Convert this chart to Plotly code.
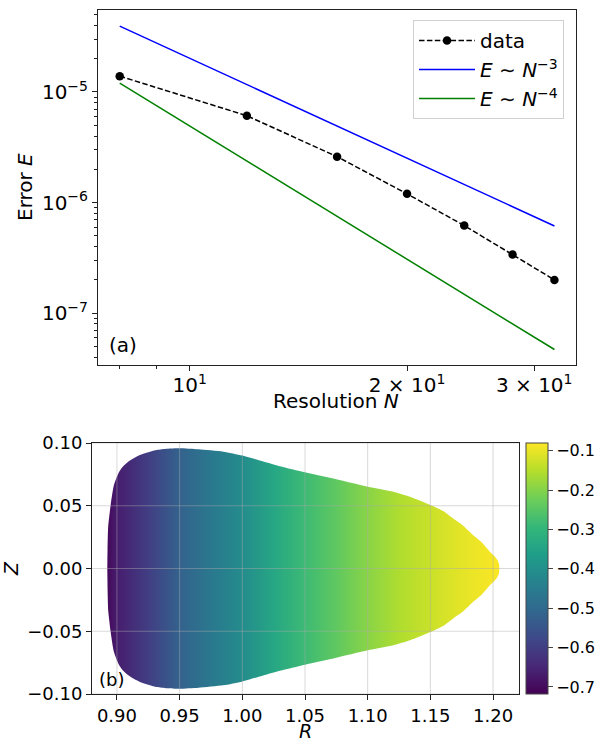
import plotly.graph_objects as go
from plotly.colors import sample_colorscale

# ---------------- data: panel (a) ----------------
N_data = [8, 12, 16, 20, 24, 28, 32]
E_data = [1.39e-5, 6.1e-6, 2.6e-6, 1.2e-6, 6.2e-7, 3.4e-7, 2.0e-7]
N_ref = [8, 32]
E_ref3 = [3.94e-5, 6.15e-7]
E_ref4 = [1.2e-5, 4.7e-8]

x_tickvals_a = [10, 20, 30]
x_ticktext_a = ["10<sup>1</sup>", "2 × 10<sup>1</sup>", "3 × 10<sup>1</sup>"]
y_tickvals_a = [1e-7, 1e-6, 1e-5]
y_ticktext_a = ["10<sup>−7</sup>", "10<sup>−6</sup>", "10<sup>−5</sup>"]

# ---------------- data: panel (b) ----------------
# upper half of the boundary (symmetric in Z)
R_bnd = [0.8923, 0.8925, 0.8930, 0.8950, 0.8976, 0.9018, 0.9050, 0.9090, 0.9183,
         0.9317, 0.9400, 0.9500, 0.9650, 0.9848, 1.0000, 1.0140, 1.0300, 1.0500,
         1.0750, 1.1000, 1.1206, 1.1337, 1.1500, 1.1602, 1.1680, 1.1762, 1.1840,
         1.1909, 1.1975, 1.2010, 1.2035, 1.2048, 1.2050]
Z_bnd = [0.0000, 0.0150, 0.0330, 0.0506, 0.0665, 0.0771, 0.0815, 0.0851, 0.0904,
         0.0944, 0.0954, 0.0958, 0.0950, 0.0931, 0.0900, 0.0860, 0.0815, 0.0766,
         0.0711, 0.0652, 0.0612, 0.0572, 0.0506, 0.0458, 0.0400, 0.0341, 0.0267,
         0.0209, 0.0134, 0.0100, 0.0068, 0.0035, 0.0000]
# field value along R (colour)
R_prof = [0.8923, 0.900, 0.925, 0.950, 0.975, 1.000, 1.025, 1.050, 1.075, 1.100,
          1.125, 1.150, 1.175, 1.2050]
V_prof = [-0.705, -0.667, -0.600, -0.520, -0.463, -0.410, -0.340, -0.283, -0.240,
          -0.195, -0.157, -0.131, -0.105, -0.082]
cmin, cmax = -0.718, -0.080
R_ticks = [0.90, 0.95, 1.00, 1.05, 1.10, 1.15, 1.20]
Z_ticks = [-0.10, -0.05, 0.00, 0.05, 0.10]
cb_ticks = [-0.7, -0.6, -0.5, -0.4, -0.3, -0.2, -0.1]

W, H = 603, 742
FONT = "DejaVu Sans"


def px(x):
    return x / W


def py(y):
    return 1 - y / H


fig = go.Figure()

# panel (a)
fig.add_trace(go.Scatter(x=N_data, y=E_data, mode="lines+markers", name="data",
                         line=dict(color="black", width=1.5, dash="5.5px,2.4px"),
                         marker=dict(color="black", size=8.5),
                         xaxis="x", yaxis="y"))
fig.add_trace(go.Scatter(x=N_ref, y=E_ref3, mode="lines",
                         name="<i>E</i> ∼ <i>N</i><sup>−3</sup>",
                         line=dict(color="#0000ff", width=1.5), xaxis="x", yaxis="y"))
fig.add_trace(go.Scatter(x=N_ref, y=E_ref4, mode="lines",
                         name="<i>E</i> ∼ <i>N</i><sup>−4</sup>",
                         line=dict(color="#008000", width=1.5), xaxis="x", yaxis="y"))

# panel (b): filled boundary with horizontal gradient (upper half, then mirrored lower half)
poly_R = R_bnd + R_bnd[-2:0:-1]
poly_Z = Z_bnd + [-z for z in Z_bnd[-2:0:-1]]
Rmin, Rmax = min(R_bnd), max(R_bnd)
stops = []
for r, v in zip(R_prof, V_prof):
    f = (r - Rmin) / (Rmax - Rmin)
    c = sample_colorscale("Viridis", [(v - cmin) / (cmax - cmin)])[0]
    stops.append([min(max(f, 0), 1), c])
fig.add_trace(go.Scatter(x=poly_R, y=poly_Z, mode="lines", fill="toself",
                         line=dict(width=0, shape="spline", smoothing=0.6),
                         fillgradient=dict(type="horizontal", colorscale=stops,
                                           start=Rmin, stop=Rmax),
                         showlegend=False, hoverinfo="skip",
                         xaxis="x2", yaxis="y2"))
# colourbar carrier
fig.add_trace(go.Scatter(x=[0.5, 0.5], y=[0, 0], mode="markers",
                         marker=dict(color=[cmin, cmax], colorscale="Viridis",
                                     cmin=cmin, cmax=cmax, size=1, opacity=0,
                                     showscale=True,
                                     colorbar=dict(x=px(526), xanchor="left", xpad=0,
                                                   y=py(568.5), yanchor="middle", ypad=0,
                                                   len=251 / H, lenmode="fraction",
                                                   thickness=22, thicknessmode="pixels",
                                                   outlinecolor="#444", outlinewidth=1,
                                                   tickvals=cb_ticks,
                                                   ticktext=[f"−{abs(t):.1f}" for t in cb_ticks],
                                                   ticks="outside", ticklen=5,
                                                   tickfont=dict(size=16, family=FONT, color="black"))),
                         showlegend=False, hoverinfo="skip",
                         xaxis="x2", yaxis="y2"))

axis_common = dict(showline=True, mirror=True, linecolor="#222", linewidth=1,
                   ticks="outside", tickcolor="#222", zeroline=False, automargin=False)

shapes = []
for r in R_ticks:
    shapes.append(dict(type="line", xref="x2", yref="y2 domain", x0=r, x1=r, y0=0, y1=1,
                       line=dict(color="rgba(170,170,170,0.45)", width=1), layer="above"))
for z in Z_ticks:
    shapes.append(dict(type="line", xref="x2 domain", yref="y2", x0=0, x1=1, y0=z, y1=z,
                       line=dict(color="rgba(170,170,170,0.45)", width=1), layer="above"))


def ann(text, x, y, size, angle=0, xanchor="center"):
    return dict(text=text, x=px(x), y=py(y), xref="paper", yref="paper",
                xanchor=xanchor, yanchor="middle", textangle=angle,
                showarrow=False, font=dict(size=size, family=FONT, color="black"))


fig.update_layout(
    width=W, height=H,
    margin=dict(l=0, r=0, t=0, b=0),
    paper_bgcolor="white", plot_bgcolor="white",
    font=dict(family=FONT, color="black"),
    xaxis=dict(domain=[px(98), px(576)], anchor="y", type="log", range=[0.873, 1.535],
               tickvals=x_tickvals_a, ticktext=x_ticktext_a, ticklen=5,
               tickfont=dict(size=20), ticklabelstandoff=-3,
               minor=dict(tickvals=[8, 9], ticks="outside", ticklen=3, tickcolor="#222"),
               showgrid=False, **axis_common),
    yaxis=dict(domain=[py(365), py(10)], anchor="x", type="log", range=[-7.468, -4.259],
               tickvals=y_tickvals_a, ticktext=y_ticktext_a, ticklen=5,
               tickfont=dict(size=20),
               minor=dict(tickvals=[m * 10.0 ** k for k in (-8, -7, -6, -5) for m in range(2, 10)],
                          ticks="outside", ticklen=3, tickcolor="#222"),
               showgrid=False, **axis_common),
    xaxis2=dict(domain=[px(92), px(519)], anchor="y2", range=[0.8801, 1.2207],
                tickvals=R_ticks, ticktext=[f"{t:.2f}" for t in R_ticks], ticklen=5,
                tickfont=dict(size=18), showgrid=False, **axis_common),
    yaxis2=dict(domain=[py(694), py(443)], anchor="x2", range=[-0.1, 0.1],
                tickvals=Z_ticks,
                ticktext=[("−" if t < 0 else "") + f"{abs(t):.2f}" for t in Z_ticks],
                ticklen=5, tickfont=dict(size=18), showgrid=False, **axis_common),
    legend=dict(x=px(564), xanchor="right", y=py(20), yanchor="top",
                bgcolor="white", bordercolor="#d0d0d0", borderwidth=1,
                itemwidth=56, font=dict(size=20, family=FONT)),
    shapes=shapes,
    annotations=[
        ann("Error <i>E</i>", 25, 187, 20, angle=-90),
        ann("Resolution <i>N</i>", 336, 401, 20),
        ann("(a)", 107, 345, 20, xanchor="left"),
        ann("<i>Z</i>", 11, 569, 19, angle=-90),
        ann("<i>R</i>", 305, 731, 19),
        ann("(b)", 97, 679, 18, xanchor="left"),
    ],
)

fig.write_html("out.html", config={"displayModeBar": False},
               post_script="document.body.style.margin='0px';")
